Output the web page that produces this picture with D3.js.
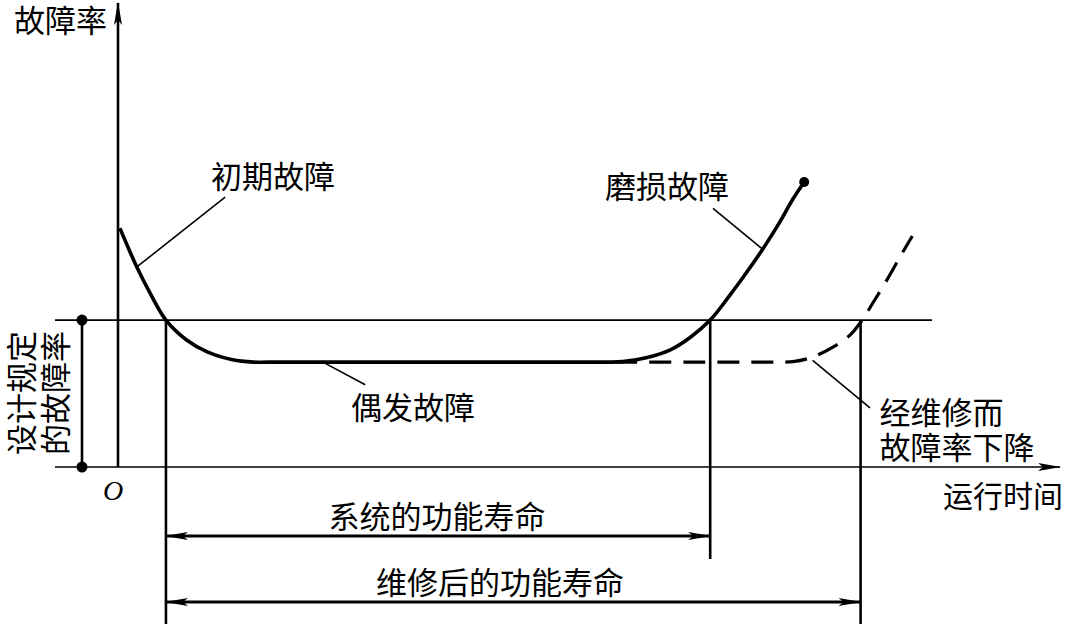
<!DOCTYPE html>
<html>
<head>
<meta charset="utf-8">
<script src="https://cdn.jsdelivr.net/npm/d3@7"></script>
<style>
  body { margin: 0; background: #fff; }
  text { font-family: "Noto Sans CJK SC", sans-serif; font-size: 31px; fill: #000; }
</style>
</head>
<body>
<svg width="1065" height="624"></svg>
<script>
// bathtub curve: time (t) vs failure rate (v), arbitrary units
const wearCurve = [
  [0.02, 5.17], [0.11, 4.74], [0.20, 4.33], [0.34, 3.77], [0.51, 3.18],
  [0.73, 2.75], [0.95, 2.49], [1.22, 2.32], [1.44, 2.27], [1.6, 2.27],
  [3.0, 2.27], [4.91, 2.27], [5.2, 2.27], [5.37, 2.28], [5.63, 2.37],
  [5.87, 2.53], [6.09, 2.81], [6.30, 3.18], [6.51, 3.72], [6.69, 4.22],
  [6.86, 4.72], [7.04, 5.30], [7.18, 5.80], [7.30, 6.17]
];
const repairedCurve = [
  [5.29, 2.27], [6.19, 2.27], [6.9, 2.27], [7.18, 2.28], [7.39, 2.38],
  [7.61, 2.60], [7.79, 2.86], [7.91, 3.16], [8.03, 3.55], [8.18, 4.05],
  [8.32, 4.55], [8.45, 5.00]
];
const designRate = 3.18;
const lifeStart = 0.51;
const systemLifeEnd = 6.30;
const repairedLifeEnd = 7.90;

// labels: [text, t, v]
const labels = [
  ['初期故障', 0.99, 6.33],
  ['磨损故障', 5.18, 6.11],
  ['偶发故障', 2.48, 1.34],
  ['经维修而', 8.10, 1.23],
  ['故障率下降', 8.10, 0.46]
];
// leader lines: [t1, v1, t2, v2]
const leaders = [
  [1.14, 5.84, 0.20, 4.33],
  [6.33, 5.60, 6.86, 4.71],
  [2.18, 2.27, 2.63, 1.78],
  [7.39, 2.31, 8.00, 1.28]
];

const svg = d3.select('svg');
const x = d3.scaleLinear().domain([0, 10]).range([118, 1058]);
const y = d3.scaleLinear().domain([0, 10]).range([467, 5]);

const defs = svg.append('defs');
defs.append('marker')
  .attr('id', 'arr')
  .attr('markerUnits', 'userSpaceOnUse')
  .attr('viewBox', '-24 -6 26 12')
  .attr('refX', 0).attr('refY', 0)
  .attr('markerWidth', 26).attr('markerHeight', 12)
  .attr('orient', 'auto-start-reverse')
  .append('path')
  .attr('d', 'M1,0 L-22,-4 L-17,0 L-22,4 Z')
  .attr('fill', '#000');

//axes
svg.append('line')
  .attr('x1', x(0)).attr('y1', y(0)).attr('x2', x(0)).attr('y2', 3)
  .attr('stroke', '#000').attr('stroke-width', 2.6)
  .attr('marker-end', 'url(#arr)');
svg.append('line')
  .attr('x1', 55).attr('y1', y(0)).attr('x2', 1060).attr('y2', y(0))
  .attr('stroke', '#000').attr('stroke-width', 1.6)
  .attr('marker-end', 'url(#arr)');

//design failure rate line
svg.append('line')
  .attr('x1', 55).attr('y1', y(designRate)).attr('x2', 932).attr('y2', y(designRate))
  .attr('stroke', '#000').attr('stroke-width', 1.6);

//bracket with dots on the left
svg.append('line')
  .attr('x1', 82).attr('y1', y(designRate)).attr('x2', 82).attr('y2', y(0))
  .attr('stroke', '#000').attr('stroke-width', 2.6);
svg.selectAll('.bdot')
  .data([designRate, 0]).enter()
  .append('circle')
  .attr('cx', 82).attr('cy', d => y(d)).attr('r', 5.5).attr('fill', '#000');

//vertical life lines
svg.append('line')
  .attr('x1', x(lifeStart)).attr('y1', y(designRate)).attr('x2', x(lifeStart)).attr('y2', 624)
  .attr('stroke', '#000').attr('stroke-width', 2.6);
svg.append('line')
  .attr('x1', x(systemLifeEnd)).attr('y1', y(designRate)).attr('x2', x(systemLifeEnd)).attr('y2', 559)
  .attr('stroke', '#000').attr('stroke-width', 2.6);
svg.append('line')
  .attr('x1', x(repairedLifeEnd)).attr('y1', y(designRate)).attr('x2', x(repairedLifeEnd)).attr('y2', 624)
  .attr('stroke', '#000').attr('stroke-width', 2.6);

//dimension arrows
const dims = [
  { end: systemLifeEnd, yy: 536, text: '系统的功能寿命', tx: 437, ty: 514 },
  { end: repairedLifeEnd, yy: 602, text: '维修后的功能寿命', tx: 500, ty: 580 }
];
dims.forEach(d => {
  svg.append('line')
    .attr('x1', x(lifeStart)).attr('y1', d.yy).attr('x2', x(d.end)).attr('y2', d.yy)
    .attr('stroke', '#000').attr('stroke-width', 2.8)
    .attr('marker-start', 'url(#arr)').attr('marker-end', 'url(#arr)');
  svg.append('text')
    .attr('x', d.tx)
    .attr('y', d.ty)
    .attr('text-anchor', 'middle')
    .attr('dominant-baseline', 'central')
    .text(d.text);
});

//curves
const line = d3.line()
  .x(d => x(d[0]))
  .y(d => y(d[1]))
  .curve(d3.curveCatmullRom.alpha(0.5));

svg.append('path')
  .attr('d', line(repairedCurve))
  .attr('fill', 'none')
  .attr('stroke', '#000')
  .attr('stroke-width', 3.2)
  .attr('stroke-dasharray', '22,12');

svg.append('path')
  .attr('d', line(wearCurve))
  .attr('fill', 'none')
  .attr('stroke', '#000')
  .attr('stroke-width', 3.6);

const last = wearCurve[wearCurve.length - 1];
svg.append('circle')
  .attr('cx', x(last[0])).attr('cy', y(last[1])).attr('r', 5).attr('fill', '#000');

//leaders
svg.selectAll('.leader')
  .data(leaders).enter()
  .append('line')
  .attr('x1', d => x(d[0])).attr('y1', d => y(d[1]))
  .attr('x2', d => x(d[2])).attr('y2', d => y(d[3]))
  .attr('stroke', '#000').attr('stroke-width', 1.6);

//labels
svg.selectAll('.lbl')
  .data(labels).enter()
  .append('text')
  .attr('x', d => x(d[1]))
  .attr('y', d => y(d[2]))
  .attr('dominant-baseline', 'central')
  .text(d => d[0]);

//axis titles
svg.append('text')
  .attr('x', 14).attr('y', 18)
  .attr('dominant-baseline', 'central')
  .text('故障率');
svg.append('text')
  .attr('x', 943).attr('y', 494)
  .attr('dominant-baseline', 'central')
  .style('font-size', '30px')
  .text('运行时间');
svg.append('text')
  .attr('x', 113).attr('y', 490)
  .attr('text-anchor', 'middle')
  .attr('dominant-baseline', 'central')
  .style('font-family', '"Liberation Serif", serif')
  .style('font-style', 'italic')
  .style('font-size', '28px')
  .text('O');

//vertical label
svg.selectAll('.vlbl')
  .data([['设计规定', 19], ['的故障率', 53]]).enter()
  .append('text')
  .attr('transform', d => `translate(${d[1]},393) rotate(-90)`)
  .attr('text-anchor', 'middle')
  .attr('dominant-baseline', 'central')
  .text(d => d[0]);
</script>
</body>
</html>
